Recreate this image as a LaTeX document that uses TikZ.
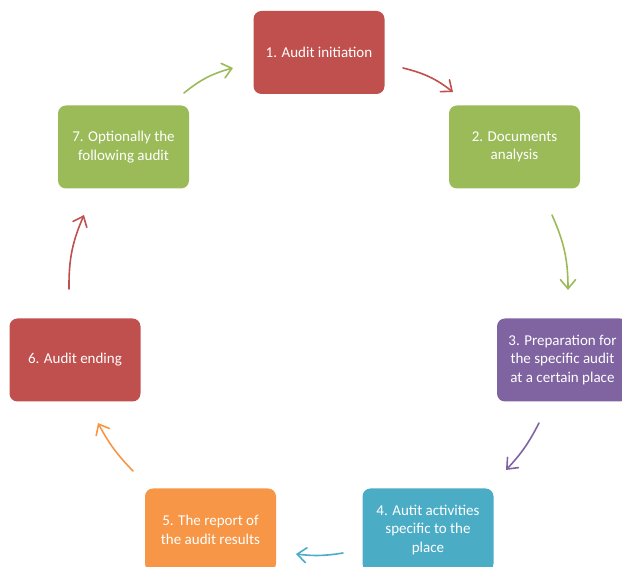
\documentclass[tikz,border=0pt]{standalone}
\usepackage{fontspec}
\setmainfont{Carlito}
\usetikzlibrary{arrows.meta}
\definecolor{stepred}{HTML}{C0504D}
\definecolor{stepgreen}{HTML}{9BBB59}
\definecolor{steppurple}{HTML}{8064A2}
\definecolor{stepteal}{HTML}{4BACC6}
\definecolor{steporange}{HTML}{F79646}
\tikzset{
  every node/.style={font=\fontsize{15}{18.5}\selectfont,text=white},
  stage/.style={draw=none,rounded corners=8pt,minimum width=131pt,minimum height=83pt,
    align=center,inner sep=2pt},
  link/.style={line width=1.6pt,line cap=round,
    -{Straight Barb[length=9pt,width=15pt,line cap=round]}}
}

\begin{document}
\begin{tikzpicture}[x=1pt,y=1pt]
  \clip (0,0) rectangle (622,567);
  % Seven audit stages placed round a circle.
  \node[stage,fill=stepred] (init) at (319,514.5) {1. Audit initiation};
  \node[stage,fill=stepgreen] (docs) at (514.5,420) {2. Documents\\analysis};
  \node[stage,fill=steppurple] (prep) at (562.5,207)
    {3. Preparation for\\the specific audit\\at a certain place};
  \node[stage,fill=stepteal] (activ) at (428,37) {4. Autit activities\\specific to the\\place};
  \node[stage,fill=steporange] (report) at (210.5,37) {5. The report of\\the audit results};
  \node[stage,fill=stepred] (ending) at (75,207) {6. Audit ending};
  \node[stage,fill=stepgreen] (next) at (123.5,420) {7. Optionally the\\following audit};

  % Free ends of the short arcs between the stages.
  \coordinate (a1s) at (403,499);  \coordinate (a1e) at (453,475);
  \coordinate (a2s) at (552,352);  \coordinate (a2e) at (568,277);
  \coordinate (a3s) at (539,144);  \coordinate (a3e) at (506,97);
  \coordinate (a4s) at (343,14);   \coordinate (a4e) at (296,13);
  \coordinate (a5s) at (133,96);   \coordinate (a5e) at (98,144);
  \coordinate (a6s) at (69,278);   \coordinate (a6e) at (84,352);
  \coordinate (a7s) at (184,474);  \coordinate (a7e) at (233,499);

  \draw[link,stepred] (a1s) to[bend left=12] (a1e);
  \draw[link,stepgreen] (a2s) to[bend left=12] (a2e);
  \draw[link,steppurple] (a3s) to[bend left=8] (a3e);
  \draw[link,stepteal] (a4s) to[bend left=8] (a4e);
  \draw[link,steporange] (a5s) to[bend left=8] (a5e);
  \draw[link,stepred] (a6s) to[bend left=12] (a6e);
  \draw[link,stepgreen] (a7s) to[bend left=12] (a7e);
\end{tikzpicture}
\end{document}
